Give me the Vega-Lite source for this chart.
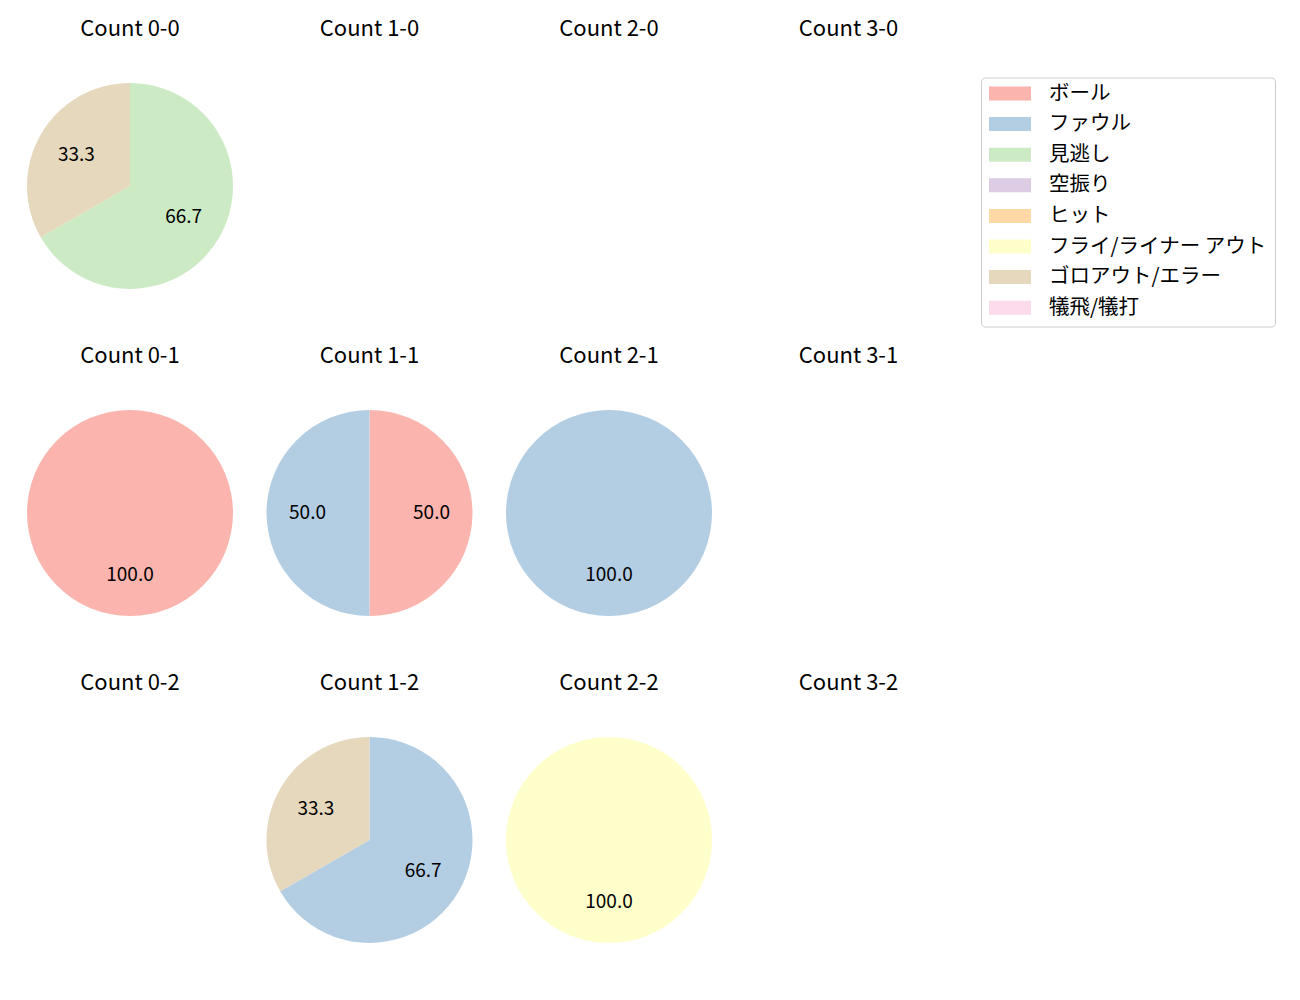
{
  "$schema": "https://vega.github.io/schema/vega-lite/v6.json",
  "padding": {"left": 27, "top": 17, "right": 5, "bottom": 5},
  "background": "white",
  "config": {
    "view": {"stroke": null},
    "font": "Noto Sans CJK JP"
  },
  "data": {
    "values": [
      {"count": "Count 0-0", "result": "見逃し", "pct": 66.7, "ord": 3},
      {"count": "Count 0-0", "result": "ゴロアウト/エラー", "pct": 33.3, "ord": 7},
      {"count": "Count 1-0", "result": null, "pct": 0, "ord": 0},
      {"count": "Count 2-0", "result": null, "pct": 0, "ord": 0},
      {"count": "Count 3-0", "result": null, "pct": 0, "ord": 0},
      {"count": "Count 0-1", "result": "ボール", "pct": 100, "ord": 1},
      {"count": "Count 1-1", "result": "ボール", "pct": 50, "ord": 1},
      {"count": "Count 1-1", "result": "ファウル", "pct": 50, "ord": 2},
      {"count": "Count 2-1", "result": "ファウル", "pct": 100, "ord": 2},
      {"count": "Count 3-1", "result": null, "pct": 0, "ord": 0},
      {"count": "Count 0-2", "result": null, "pct": 0, "ord": 0},
      {"count": "Count 1-2", "result": "ファウル", "pct": 66.7, "ord": 2},
      {"count": "Count 1-2", "result": "ゴロアウト/エラー", "pct": 33.3, "ord": 7},
      {"count": "Count 2-2", "result": "フライ/ライナー アウト", "pct": 100, "ord": 6},
      {"count": "Count 3-2", "result": null, "pct": 0, "ord": 0}
    ]
  },
  "facet": {
    "field": "count",
    "type": "nominal",
    "sort": ["Count 0-0", "Count 1-0", "Count 2-0", "Count 3-0", "Count 0-1", "Count 1-1", "Count 2-1", "Count 3-1", "Count 0-2", "Count 1-2", "Count 2-2", "Count 3-2"],
    "header": {"title": null, "labelFontSize": 22, "labelFont": "Noto Sans CJK JP", "labelColor": "black", "labelPadding": 42.5}
  },
  "columns": 4,
  "spacing": {"column": 33.5, "row": 55},
  "spec": {
    "width": 206,
    "height": 206,
    "encoding": {
      "theta": {"field": "pct", "type": "quantitative", "stack": true},
      "order": {"field": "ord", "type": "quantitative"}
    },
    "layer": [
      {
        "mark": {"type": "arc"},
        "encoding": {
          "color": {
            "field": "result",
            "type": "nominal",
            "scale": {
              "domain": ["ボール", "ファウル", "見逃し", "空振り", "ヒット", "フライ/ライナー アウト", "ゴロアウト/エラー", "犠飛/犠打"],
              "range": ["#fbb4ae", "#b3cde3", "#ccebc5", "#decbe4", "#fed9a6", "#ffffcc", "#e5d8bd", "#fddaec"]
            },
            "legend": {
              "title": null,
              "orient": "none",
              "legendX": 954,
              "legendY": -5.5,
              "symbolType": "M-1,-0.333L1,-0.333L1,0.333L-1,0.333Z",
              "symbolSize": 1764,
              "symbolStrokeWidth": 0,
              "symbolOpacity": 1,
              "clipHeight": 16,
              "labelFontSize": 20.5,
              "labelFont": "Noto Sans CJK JP",
              "labelColor": "black",
              "labelOffset": 18,
              "rowPadding": 9.6,
              "padding": 8,
              "strokeColor": "#cccccc",
              "fillColor": "white",
              "cornerRadius": 4,
              "labelLimit": 400
            }
          }
        }
      },
      {
        "mark": {"type": "text", "radius": 62, "fontSize": 19, "font": "Noto Sans CJK JP", "color": "black"},
        "encoding": {
          "text": {
            "condition": {"test": "datum.pct > 0", "field": "pct", "type": "quantitative", "format": ".1f"},
            "value": ""
          }
        }
      }
    ]
  }
}
